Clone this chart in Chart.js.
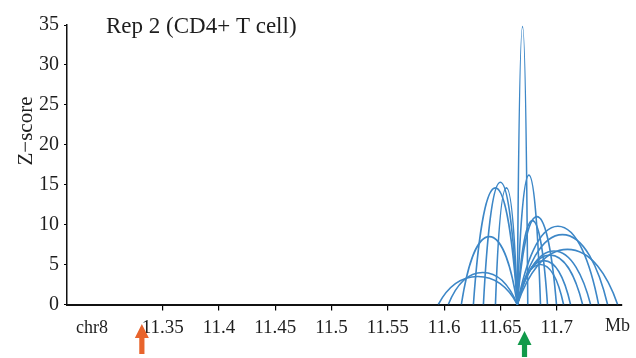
<!DOCTYPE html>
<html>
<head>
<meta charset="utf-8">
<script src="https://cdn.jsdelivr.net/npm/chart.js"></script>
<style>
  html, body { margin: 0; padding: 0; background: #fff; }
  #wrap { width: 636px; height: 358px; }
</style>
</head>
<body>
<div id="wrap"><canvas id="arcChart" width="636" height="358"></canvas></div>
<script>
// Interaction arcs: all start at the viewpoint, end at another locus (Mb)
const anchorMb = 11.665;
const arcEnds = [11.5948, 11.6037, 11.6153, 11.626, 11.6349, 11.6456,
                 11.6743, 11.6856, 11.6918, 11.6998, 11.7061, 11.7123,
                 11.723, 11.7301, 11.7372, 11.7452, 11.7541];
const arcZ = [3.5, 4.0, 8.5, 14.6, 15.3, 14.6,
              34.8, 16.2, 10.5, 11.0, 5.0, 5.5,
              6.2, 6.7, 9.8, 8.75, 6.9];

const xTicks = [11.35, 11.4, 11.45, 11.5, 11.55, 11.6, 11.65, 11.7];
const xTickLabels = ['11.35', '11.4', '11.45', '11.5', '11.55', '11.6', '11.65', '11.7'];
const yTicks = [0, 5, 10, 15, 20, 25, 30, 35];

// arrows under the axis (orange = left marker, green = viewpoint)
const arrowMb = [11.3315, 11.6714];
const arrowColors = ['#e8642c', '#119a4a'];

const serif = '"Liberation Serif", "Times New Roman", serif';
const arcColor = '#3d87c7';

// each arc: start, top, end (the curve itself is drawn by the arcs plugin)
const datasets = arcEnds.map((end, i) => ({
    data: [
        { x: anchorMb, y: 0 },
        { x: (anchorMb + end) / 2, y: arcZ[i] },
        { x: end, y: 0 }
    ],
    showLine: false,
    pointRadius: 0,
    borderColor: arcColor
}));

// rounded arch through the three points of each dataset (pixel coords from the scales)
const arcs = {
    id: 'arcs',
    afterDatasetsDraw(chart) {
        const ctx = chart.ctx;
        const area = chart.chartArea;
        ctx.save();
        ctx.beginPath();
        ctx.rect(area.left, area.top - 2, area.right - area.left, area.bottom - area.top + 2);
        ctx.clip();
        ctx.strokeStyle = arcColor;
        ctx.lineWidth = 1.6;
        chart.data.datasets.forEach((ds, i) => {
            const pts = chart.getDatasetMeta(i).data;
            const a = pts[0], t = pts[1], b = pts[2];
            const h = a.y - t.y;
            const half1 = t.x - a.x;
            const half2 = b.x - t.x;
            ctx.beginPath();
            ctx.moveTo(a.x, a.y);
            ctx.bezierCurveTo(a.x + 0.2 * half1, a.y - 0.53 * h, t.x - 0.47 * half1, t.y, t.x, t.y);
            ctx.bezierCurveTo(t.x + 0.47 * half2, t.y, b.x - 0.2 * half2, b.y - 0.53 * h, b.x, b.y);
            ctx.stroke();
        });
        ctx.restore();
    }
};

function drawArrow(ctx, x, top, headBottom, bottom, color) {
    ctx.fillStyle = color;
    ctx.beginPath();
    ctx.moveTo(x, top);
    ctx.lineTo(x + 7, headBottom);
    ctx.lineTo(x + 2.6, headBottom);
    ctx.lineTo(x + 2.6, bottom);
    ctx.lineTo(x - 2.6, bottom);
    ctx.lineTo(x - 2.6, headBottom);
    ctx.lineTo(x - 7, headBottom);
    ctx.closePath();
    ctx.fill();
}

const extras = {
    id: 'extras',
    afterDraw(chart) {
        const ctx = chart.ctx;
        const xs = chart.scales.x;
        ctx.save();
        ctx.fillStyle = '#1e1e1e';
        ctx.textBaseline = 'alphabetic';

        // panel title
        ctx.font = '23px ' + serif;
        ctx.textAlign = 'left';
        ctx.fillText('Rep 2 (CD4+ T cell)', 106, 33);

        // chromosome and unit labels
        ctx.font = '18px ' + serif;
        ctx.fillText('chr8', 76, 333);
        ctx.fillText('Mb', 605, 331);

        // y title
        ctx.save();
        ctx.translate(32, 131);
        ctx.rotate(-Math.PI / 2);
        ctx.textAlign = 'center';
        ctx.font = '21px ' + serif;
        ctx.fillText('Z\u2212score', 0, 0);
        ctx.restore();

        // arrows
        drawArrow(ctx, xs.getPixelForValue(arrowMb[0]), 324, 338, 354, arrowColors[0]);
        drawArrow(ctx, xs.getPixelForValue(arrowMb[1]), 331, 345, 357, arrowColors[1]);
        ctx.restore();
    }
};

const chart = new Chart(document.getElementById('arcChart'), {
    type: 'scatter',
    data: { datasets: datasets },
    options: {
        responsive: false,
        animation: false,
        events: [],
        layout: { padding: { left: 0, right: 14, top: 25, bottom: 0 } },
        plugins: {
            legend: { display: false },
            tooltip: { enabled: false }
        },
        scales: {
            x: {
                type: 'linear',
                min: 11.265,
                max: 11.758,
                afterBuildTicks: (scale) => { scale.ticks = xTicks.map(v => ({ value: v })); },
                afterFit: (scale) => { scale.height = 358 - 304.5; },
                ticks: {
                    autoSkip: false,
                    maxRotation: 0,
                    padding: 6,
                    color: '#1e1e1e',
                    font: { family: serif, size: 19 },
                    callback: (value, index) => xTickLabels[index]
                },
                grid: { display: true, drawOnChartArea: false, drawTicks: true, tickLength: 6, color: '#000', lineWidth: 1.2 },
                border: { display: true, color: '#111', width: 2 }
            },
            y: {
                min: 0,
                max: 35,
                afterBuildTicks: (scale) => { scale.ticks = yTicks.map(v => ({ value: v })); },
                afterFit: (scale) => { scale.width = 67; },
                ticks: {
                    padding: 5,
                    color: '#1e1e1e',
                    font: { family: serif, size: 20 }
                },
                grid: { display: true, drawOnChartArea: false, drawTicks: true, tickLength: 3, color: '#000', lineWidth: 1 },
                border: { display: true, color: '#111', width: 1.5 }
            }
        }
    },
    plugins: [arcs, extras]
});
</script>
</body>
</html>
